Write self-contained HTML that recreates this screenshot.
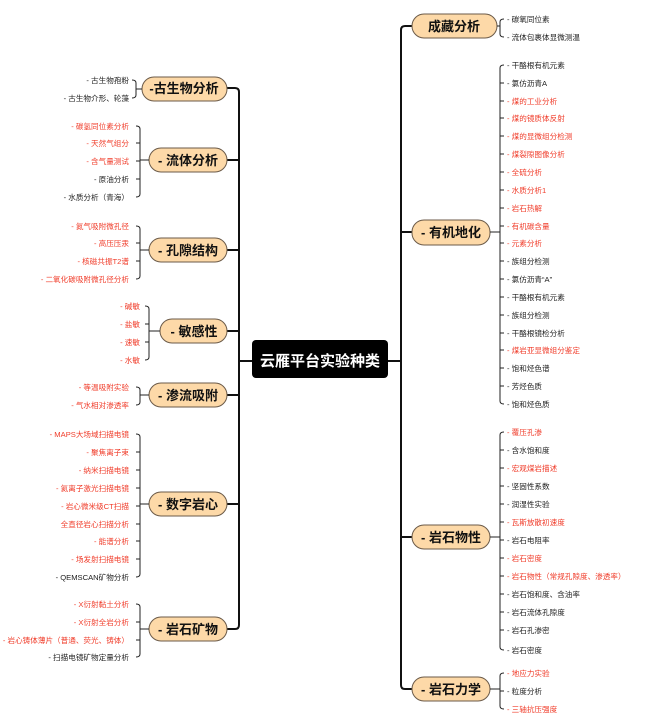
<!DOCTYPE html>
<html><head><meta charset="utf-8"><style>
html,body{margin:0;padding:0;background:#fff;}
svg{display:block;font-family:"Liberation Sans","Noto Sans CJK SC",sans-serif;}
.l{font-size:7.6px;fill:#222;}
.r{fill:#f03c2a;}
.n{font-size:13px;font-weight:bold;fill:#111;}
.p{fill:#fdd9a8;stroke:#6b5a48;stroke-width:1;}
.k{fill:none;stroke:#222;stroke-width:1;}
.t{fill:none;stroke:#111;stroke-width:2;}
</style></head><body>
<svg width="654" height="723" viewBox="0 0 654 723" xmlns="http://www.w3.org/2000/svg">
<path class="t" d="M227 88 H235 Q239 88 239 92 V625 Q239 629 235 629 H227"/>
<path class="t" d="M227 160 H239 M227 250 H239 M227 331 H239 M227 395 H239 M227 504 H239 M239 361 H252"/>
<path class="t" d="M412 26 H405 Q401 26 401 30 V685 Q401 689 405 689 H412"/>
<path class="t" d="M388 361 H401 M401 232 H412 M401 537 H412"/>
<rect x="252" y="340" width="136" height="38" rx="4" fill="#000"/>
<text x="320" y="366" text-anchor="middle" font-size="15" font-weight="bold" fill="#fff">云雁平台实验种类</text>
<rect class="p" x="142" y="77" width="85" height="24" rx="12"/><text class="n" x="184" y="93" text-anchor="middle">-古生物分析</text>
<rect class="p" x="149" y="148" width="78" height="24" rx="12"/><text class="n" x="188" y="165" text-anchor="middle">- 流体分析</text>
<rect class="p" x="149" y="238" width="78" height="24" rx="12"/><text class="n" x="188" y="255" text-anchor="middle">- 孔隙结构</text>
<rect class="p" x="160" y="319" width="67" height="24" rx="12"/><text class="n" x="194" y="336" text-anchor="middle">- 敏感性</text>
<rect class="p" x="149" y="383" width="78" height="24" rx="12"/><text class="n" x="188" y="400" text-anchor="middle">- 渗流吸附</text>
<rect class="p" x="149" y="492" width="78" height="24" rx="12"/><text class="n" x="188" y="509" text-anchor="middle">- 数字岩心</text>
<rect class="p" x="149" y="617" width="78" height="24" rx="12"/><text class="n" x="188" y="634" text-anchor="middle">- 岩石矿物</text>
<rect class="p" x="412" y="14" width="85" height="24" rx="12"/><text class="n" x="454" y="31" text-anchor="middle">成藏分析</text>
<rect class="p" x="412" y="220" width="78" height="25" rx="12"/><text class="n" x="451" y="237" text-anchor="middle">- 有机地化</text>
<rect class="p" x="412" y="525" width="78" height="24" rx="12"/><text class="n" x="451" y="542" text-anchor="middle">- 岩石物性</text>
<rect class="p" x="412" y="677" width="78" height="24" rx="12"/><text class="n" x="451" y="694" text-anchor="middle">- 岩石力学</text>
<path class="k" d="M132 80 Q136 80 136 83 V95 Q136 98 132 98 M136 89 H142"/>
<path class="k" d="M136 126 Q140 126 140 129 V194 Q140 197 136 197 M136 143 H140 M136 161 H140 M136 179 H140 M140 160 H149"/>
<path class="k" d="M136 226 Q140 226 140 229 V276 Q140 279 136 279 M136 243 H140 M136 261 H140 M140 250 H149"/>
<path class="k" d="M145 306 Q149 306 149 309 V357 Q149 360 145 360 M145 324 H149 M145 342 H149 M149 331 H160"/>
<path class="k" d="M136 387 Q140 387 140 390 V402 Q140 405 136 405 M140 395 H149"/>
<path class="k" d="M136 434 Q140 434 140 437 V574 Q140 577 136 577 M136 452 H140 M136 470 H140 M136 488 H140 M136 506 H140 M136 524 H140 M136 541 H140 M136 559 H140 M140 504 H149"/>
<path class="k" d="M136 604 Q140 604 140 607 V654 Q140 657 136 657 M136 622 H140 M136 640 H140 M140 629 H149"/>
<path class="k" d="M497 26 H500 M504 19 Q500 19 500 22 V34 Q500 37 504 37"/>
<path class="k" d="M490 232 H500 M504 65 Q500 65 500 68 V401 Q500 404 504 404 M500 83 H504 M500 101 H504 M500 118 H504 M500 136 H504 M500 154 H504 M500 172 H504 M500 190 H504 M500 208 H504 M500 226 H504 M500 243 H504 M500 261 H504 M500 279 H504 M500 297 H504 M500 315 H504 M500 333 H504 M500 350 H504 M500 368 H504 M500 386 H504"/>
<path class="k" d="M490 537 H500 M504 432 Q500 432 500 435 V647 Q500 650 504 650 M500 450 H504 M500 468 H504 M500 486 H504 M500 504 H504 M500 522 H504 M500 540 H504 M500 558 H504 M500 576 H504 M500 594 H504 M500 612 H504 M500 630 H504"/>
<path class="k" d="M490 689 H500 M504 673 Q500 673 500 676 V706 Q500 709 504 709 M500 691 H504"/>
<g class="l" text-anchor="end">
<text x="129" y="83">- 古生物孢粉</text>
<text x="129" y="101">- 古生物介形、轮藻</text>
<text class="l r" x="129" y="129">- 碳氢同位素分析</text>
<text class="l r" x="129" y="146">- 天然气组分</text>
<text class="l r" x="129" y="164">- 含气量测试</text>
<text x="129" y="182">- 原油分析</text>
<text x="129" y="200">- 水质分析（青海）</text>
<text class="l r" x="129" y="229">- 氮气吸附微孔径</text>
<text class="l r" x="129" y="246">- 高压压汞</text>
<text class="l r" x="129" y="264">- 核磁共振T2谱</text>
<text class="l r" x="129" y="282">- 二氧化碳吸附微孔径分析</text>
<text class="l r" x="140" y="309">- 碱敏</text>
<text class="l r" x="140" y="327">- 盐敏</text>
<text class="l r" x="140" y="345">- 速敏</text>
<text class="l r" x="140" y="363">- 水敏</text>
<text class="l r" x="129" y="390">- 等温吸附实验</text>
<text class="l r" x="129" y="408">- 气水相对渗透率</text>
<text class="l r" x="129" y="437">- MAPS大场域扫描电镜</text>
<text class="l r" x="129" y="455">- 聚焦离子束</text>
<text class="l r" x="129" y="473">- 纳米扫描电镜</text>
<text class="l r" x="129" y="491">- 氦离子激光扫描电镜</text>
<text class="l r" x="129" y="509">- 岩心微米级CT扫描</text>
<text class="l r" x="129" y="527">全直径岩心扫描分析</text>
<text class="l r" x="129" y="544">- 能谱分析</text>
<text class="l r" x="129" y="562">- 场发射扫描电镜</text>
<text x="129" y="580">- QEMSCAN矿物分析</text>
<text class="l r" x="129" y="607">- X衍射黏土分析</text>
<text class="l r" x="129" y="625">- X衍射全岩分析</text>
<text class="l r" x="129" y="643">- 岩心铸体薄片（普通、荧光、铸体）</text>
<text x="129" y="660">- 扫描电镜矿物定量分析</text>
</g>
<g class="l">
<text x="507" y="22">- 碳氧同位素</text>
<text x="507" y="40">- 流体包裹体显微测温</text>
<text x="507" y="68">- 干酪根有机元素</text>
<text x="507" y="86">- 氯仿沥青A</text>
<text class="l r" x="507" y="104">- 煤的工业分析</text>
<text class="l r" x="507" y="121">- 煤的镜质体反射</text>
<text class="l r" x="507" y="139">- 煤的显微组分检测</text>
<text class="l r" x="507" y="157">- 煤裂隙图像分析</text>
<text class="l r" x="507" y="175">- 全硫分析</text>
<text class="l r" x="507" y="193">- 水质分析1</text>
<text class="l r" x="507" y="211">- 岩石热解</text>
<text class="l r" x="507" y="229">- 有机碳含量</text>
<text class="l r" x="507" y="246">- 元素分析</text>
<text x="507" y="264">- 族组分检测</text>
<text x="507" y="282">- 氯仿沥青“A”</text>
<text x="507" y="300">- 干酪根有机元素</text>
<text x="507" y="318">- 族组分检测</text>
<text x="507" y="336">- 干酪根镜检分析</text>
<text class="l r" x="507" y="353">- 煤岩亚显微组分鉴定</text>
<text x="507" y="371">- 饱和烃色谱</text>
<text x="507" y="389">- 芳烃色质</text>
<text x="507" y="407">- 饱和烃色质</text>
<text class="l r" x="507" y="435">- 覆压孔渗</text>
<text x="507" y="453">- 含水饱和度</text>
<text class="l r" x="507" y="471">- 宏观煤岩描述</text>
<text x="507" y="489">- 坚固性系数</text>
<text x="507" y="507">- 润湿性实验</text>
<text class="l r" x="507" y="525">- 瓦斯放散初速度</text>
<text x="507" y="543">- 岩石电阻率</text>
<text class="l r" x="507" y="561">- 岩石密度</text>
<text class="l r" x="507" y="579">- 岩石物性（常规孔隙度、渗透率）</text>
<text x="507" y="597">- 岩石饱和度、含油率</text>
<text x="507" y="615">- 岩石流体孔隙度</text>
<text x="507" y="633">- 岩石孔渗密</text>
<text x="507" y="653">- 岩石密度</text>
<text class="l r" x="507" y="676">- 地应力实验</text>
<text x="507" y="694">- 粒度分析</text>
<text class="l r" x="507" y="712">- 三轴抗压强度</text>
</g>
</svg>
</body></html>
